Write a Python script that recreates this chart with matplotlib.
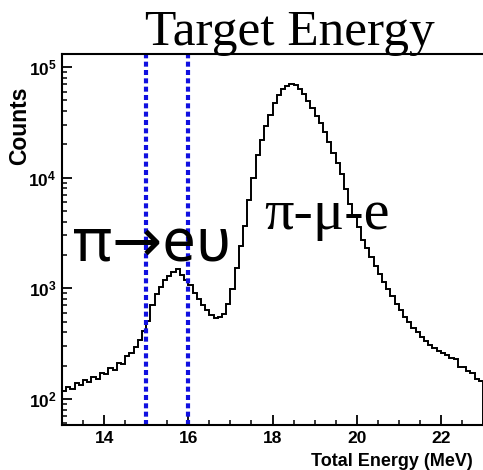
import numpy as np
import matplotlib.pyplot as plt
from matplotlib.ticker import MultipleLocator, LogLocator, NullFormatter

# histogram of total energy, 0.1 MeV bins from 13 to 23 MeV
bin_start = 13.0
bin_width = 0.1
counts = [
    117, 128, 122, 138, 133, 149, 143, 158, 152, 172,
    167, 189, 181, 212, 205, 243, 258, 295, 339, 407,
    501, 708, 891, 1023, 1175, 1288, 1413, 1479, 1318, 1175,
    1072, 912, 794, 708, 631, 575, 537, 550, 589, 724,
    977, 1514, 2399, 3631, 6310, 10000, 15850, 21880, 29510, 37150,
    46770, 56230, 63100, 67600, 70000, 68400, 63100, 57540, 48980, 42660,
    36310, 30900, 25700, 20890, 16600, 13490, 10720, 7940, 5750, 4570,
    3550, 2750, 2290, 1905, 1585, 1349, 1148, 977, 851, 724,
    631, 550, 490, 437, 398, 363, 331, 309, 288, 269,
    262, 248, 236, 228, 196, 192, 178, 170, 152, 146,
]
window = [15.0, 16.0]
x_ticks = [14, 16, 18, 20, 22]

plt.rcParams['font.family'] = ['Liberation Sans', 'DejaVu Sans']
plt.rcParams['font.weight'] = 'bold'
plt.rcParams['mathtext.fontset'] = 'custom'
plt.rcParams['mathtext.rm'] = 'Liberation Sans:bold'

edges = bin_start + bin_width * np.arange(len(counts) + 1)

fig = plt.figure(figsize=(4.83, 4.70), dpi=100)
ax = fig.add_axes([62 / 483, 45 / 470, 421 / 483, 371 / 470])

ax.stairs(counts, edges, color='black', lw=1.4)
for e in window:
    ax.axvline(e, color='#1010e0', lw=3.0, ls=(0, (1.2, 0.8)))

ax.set_yscale('log')
ax.set_xlim(13, 23)
ax.set_ylim(58, 131000)

ax.set_xticks(x_ticks)
ax.xaxis.set_minor_locator(MultipleLocator(0.5))
ax.yaxis.set_major_locator(LogLocator(base=10, numticks=10))
ax.yaxis.set_minor_locator(LogLocator(base=10, subs=np.arange(2, 10), numticks=10))
ax.yaxis.set_minor_formatter(NullFormatter())
ax.tick_params(which='major', direction='in', length=7, width=1.3, labelsize=12.5, pad=4)
ax.tick_params(which='minor', direction='in', length=3.5, width=1.1)
for s in ['left', 'bottom', 'top']:
    ax.spines[s].set_linewidth(1.5)
ax.spines['right'].set_visible(False)

fig.text(473 / 483, 1 - 466 / 470, 'Total Energy (MeV)', ha='right', va='baseline', fontsize=13)
fig.text(20 / 483, 1 - 126 / 470, 'Counts', rotation=90, ha='center', va='center',
         fontsize=16.5)

fig.text(290 / 483, 1 - 45 / 470, 'Target Energy', ha='center', va='baseline',
         fontsize=37, fontweight='normal', family=['Liberation Serif', 'DejaVu Serif'])
fig.text(152 / 483, 1 - 262 / 470, 'π→eυ', ha='center', va='baseline',
         fontsize=43, fontweight='normal', family=['Noto Sans', 'DejaVu Sans'])
fig.text(327 / 483, 1 - 229 / 470, 'π-μ-e', ha='center', va='baseline',
         fontsize=42, fontweight='normal', family=['Liberation Serif', 'DejaVu Serif'])

fig.savefig('out.png', dpi=100)
